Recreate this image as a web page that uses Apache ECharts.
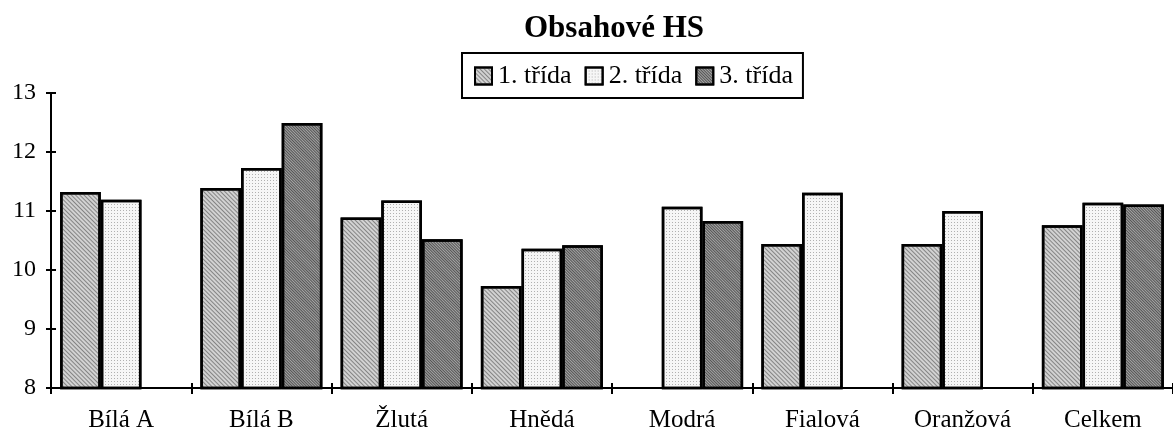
<!DOCTYPE html>
<html lang="cs">
<head>
<meta charset="UTF-8">
<title>Obsahové HS</title>
<style>
  html, body { margin: 0; padding: 0; background: #fff; }
  #container { width: 1173px; height: 434px; }
</style>
</head>
<body>
<div id="container"></div>
<script src="https://cdn.jsdelivr.net/npm/echarts@6/dist/echarts.min.js"></script>
<script>
var categories = ['Bílá A', 'Bílá B', 'Žlutá', 'Hnědá', 'Modrá', 'Fialová', 'Oranžová', 'Celkem'];
var seriesNames = ['1. třída', '2. třída', '3. třída'];
var trida1 = [11.32, 11.39, 10.89, 9.73, null, 10.44, 10.44, 10.76];
var trida2 = [11.19, 11.73, 11.18, 10.36, 11.07, 11.31, 11.00, 11.14];
var trida3 = [null, 12.49, 10.52, 10.42, 10.83, null, null, 11.11];
var yTicks = [8, 9, 10, 11, 12, 13];

var FONT = "'Liberation Serif', 'Times New Roman', serif";

// fill + hatch for each class (Excel-like pattern fills)
function hatch(col, gap, rot) {
    return {
        symbol: 'rect',
        symbolSize: 1,
        color: col,
        dashArrayX: [1, 0],
        dashArrayY: [1, gap],
        rotation: rot
    };
}
var styles = [
    { color: '#d2d2d2', decal: hatch('rgba(70,70,70,0.55)', 2, Math.PI / 4) },
    { color: '#f6f6f6', decal: { symbol: 'rect', symbolSize: 1, color: 'rgba(90,90,90,0.45)', dashArrayX: [1, 2], dashArrayY: [1, 2], rotation: 0 } },
    { color: '#a4a4a4', decal: hatch('rgba(30,30,30,0.6)', 1, Math.PI / 4) }
];

var dom = document.getElementById('container');
var myChart = echarts.init(dom, null, { renderer: 'canvas' });

var dataSets = [trida1, trida2, trida3];
var series = [];
for (var i = 0; i < dataSets.length; i++) {
    series.push({
        name: seriesNames[i],
        type: 'bar',
        data: dataSets[i],
        barGap: '0%',
        barCategoryGap: '13%',
        itemStyle: {
            color: styles[i].color,
            decal: styles[i].decal,
            borderColor: '#000',
            borderWidth: 2.5
        }
    });
}

var tickStyle = { color: '#000', width: 2 };

var option = {
    animation: false,
    textStyle: { fontFamily: FONT, color: '#000' },
    aria: { enabled: true, decal: { show: true } },
    title: {
        text: 'Obsahové HS',
        left: 519,
        top: 8,
        textStyle: { fontFamily: FONT, fontSize: 31, fontWeight: 'bold', color: '#000' }
    },
    legend: {
        data: seriesNames,
        left: 462,
        top: 53,
        padding: [10, 10, 9, 12],
        itemGap: 13,
        itemWidth: 17,
        itemHeight: 17,
        icon: 'rect',
        borderColor: '#000',
        borderWidth: 2,
        textStyle: { fontFamily: FONT, fontSize: 26, color: '#000', padding: [0, 0, 0, 1] }
    },
    grid: {
        left: 51,
        top: 93,
        width: 1128,
        height: 295,
        containLabel: false
    },
    xAxis: [{
        type: 'category',
        data: categories,
        axisLine: { lineStyle: { color: '#000', width: 2 } },
        axisTick: { show: true, length: 6, lineStyle: tickStyle },
        axisLabel: { fontFamily: FONT, fontSize: 25, color: '#000', margin: 20 },
        splitLine: { show: false }
    }, {
        // inner half of the crossing ticks
        type: 'category',
        data: categories,
        position: 'bottom',
        axisLine: { show: false },
        axisTick: { show: true, inside: true, length: 5, lineStyle: tickStyle },
        axisLabel: { show: false },
        splitLine: { show: false }
    }],
    yAxis: [{
        type: 'value',
        min: yTicks[0],
        max: yTicks[yTicks.length - 1],
        interval: 1,
        axisLine: { show: true, lineStyle: { color: '#000', width: 2 } },
        axisTick: { show: true, length: 5, lineStyle: tickStyle },
        axisLabel: { fontFamily: FONT, fontSize: 24, color: '#000', margin: 15 },
        splitLine: { show: false }
    }, {
        type: 'value',
        position: 'left',
        min: yTicks[0],
        max: yTicks[yTicks.length - 1],
        interval: 1,
        axisLine: { show: false },
        axisTick: { show: true, inside: true, length: 5, lineStyle: tickStyle },
        axisLabel: { show: false },
        splitLine: { show: false }
    }],
    series: series
};
myChart.setOption(option, true);
</script>
</body>
</html>
